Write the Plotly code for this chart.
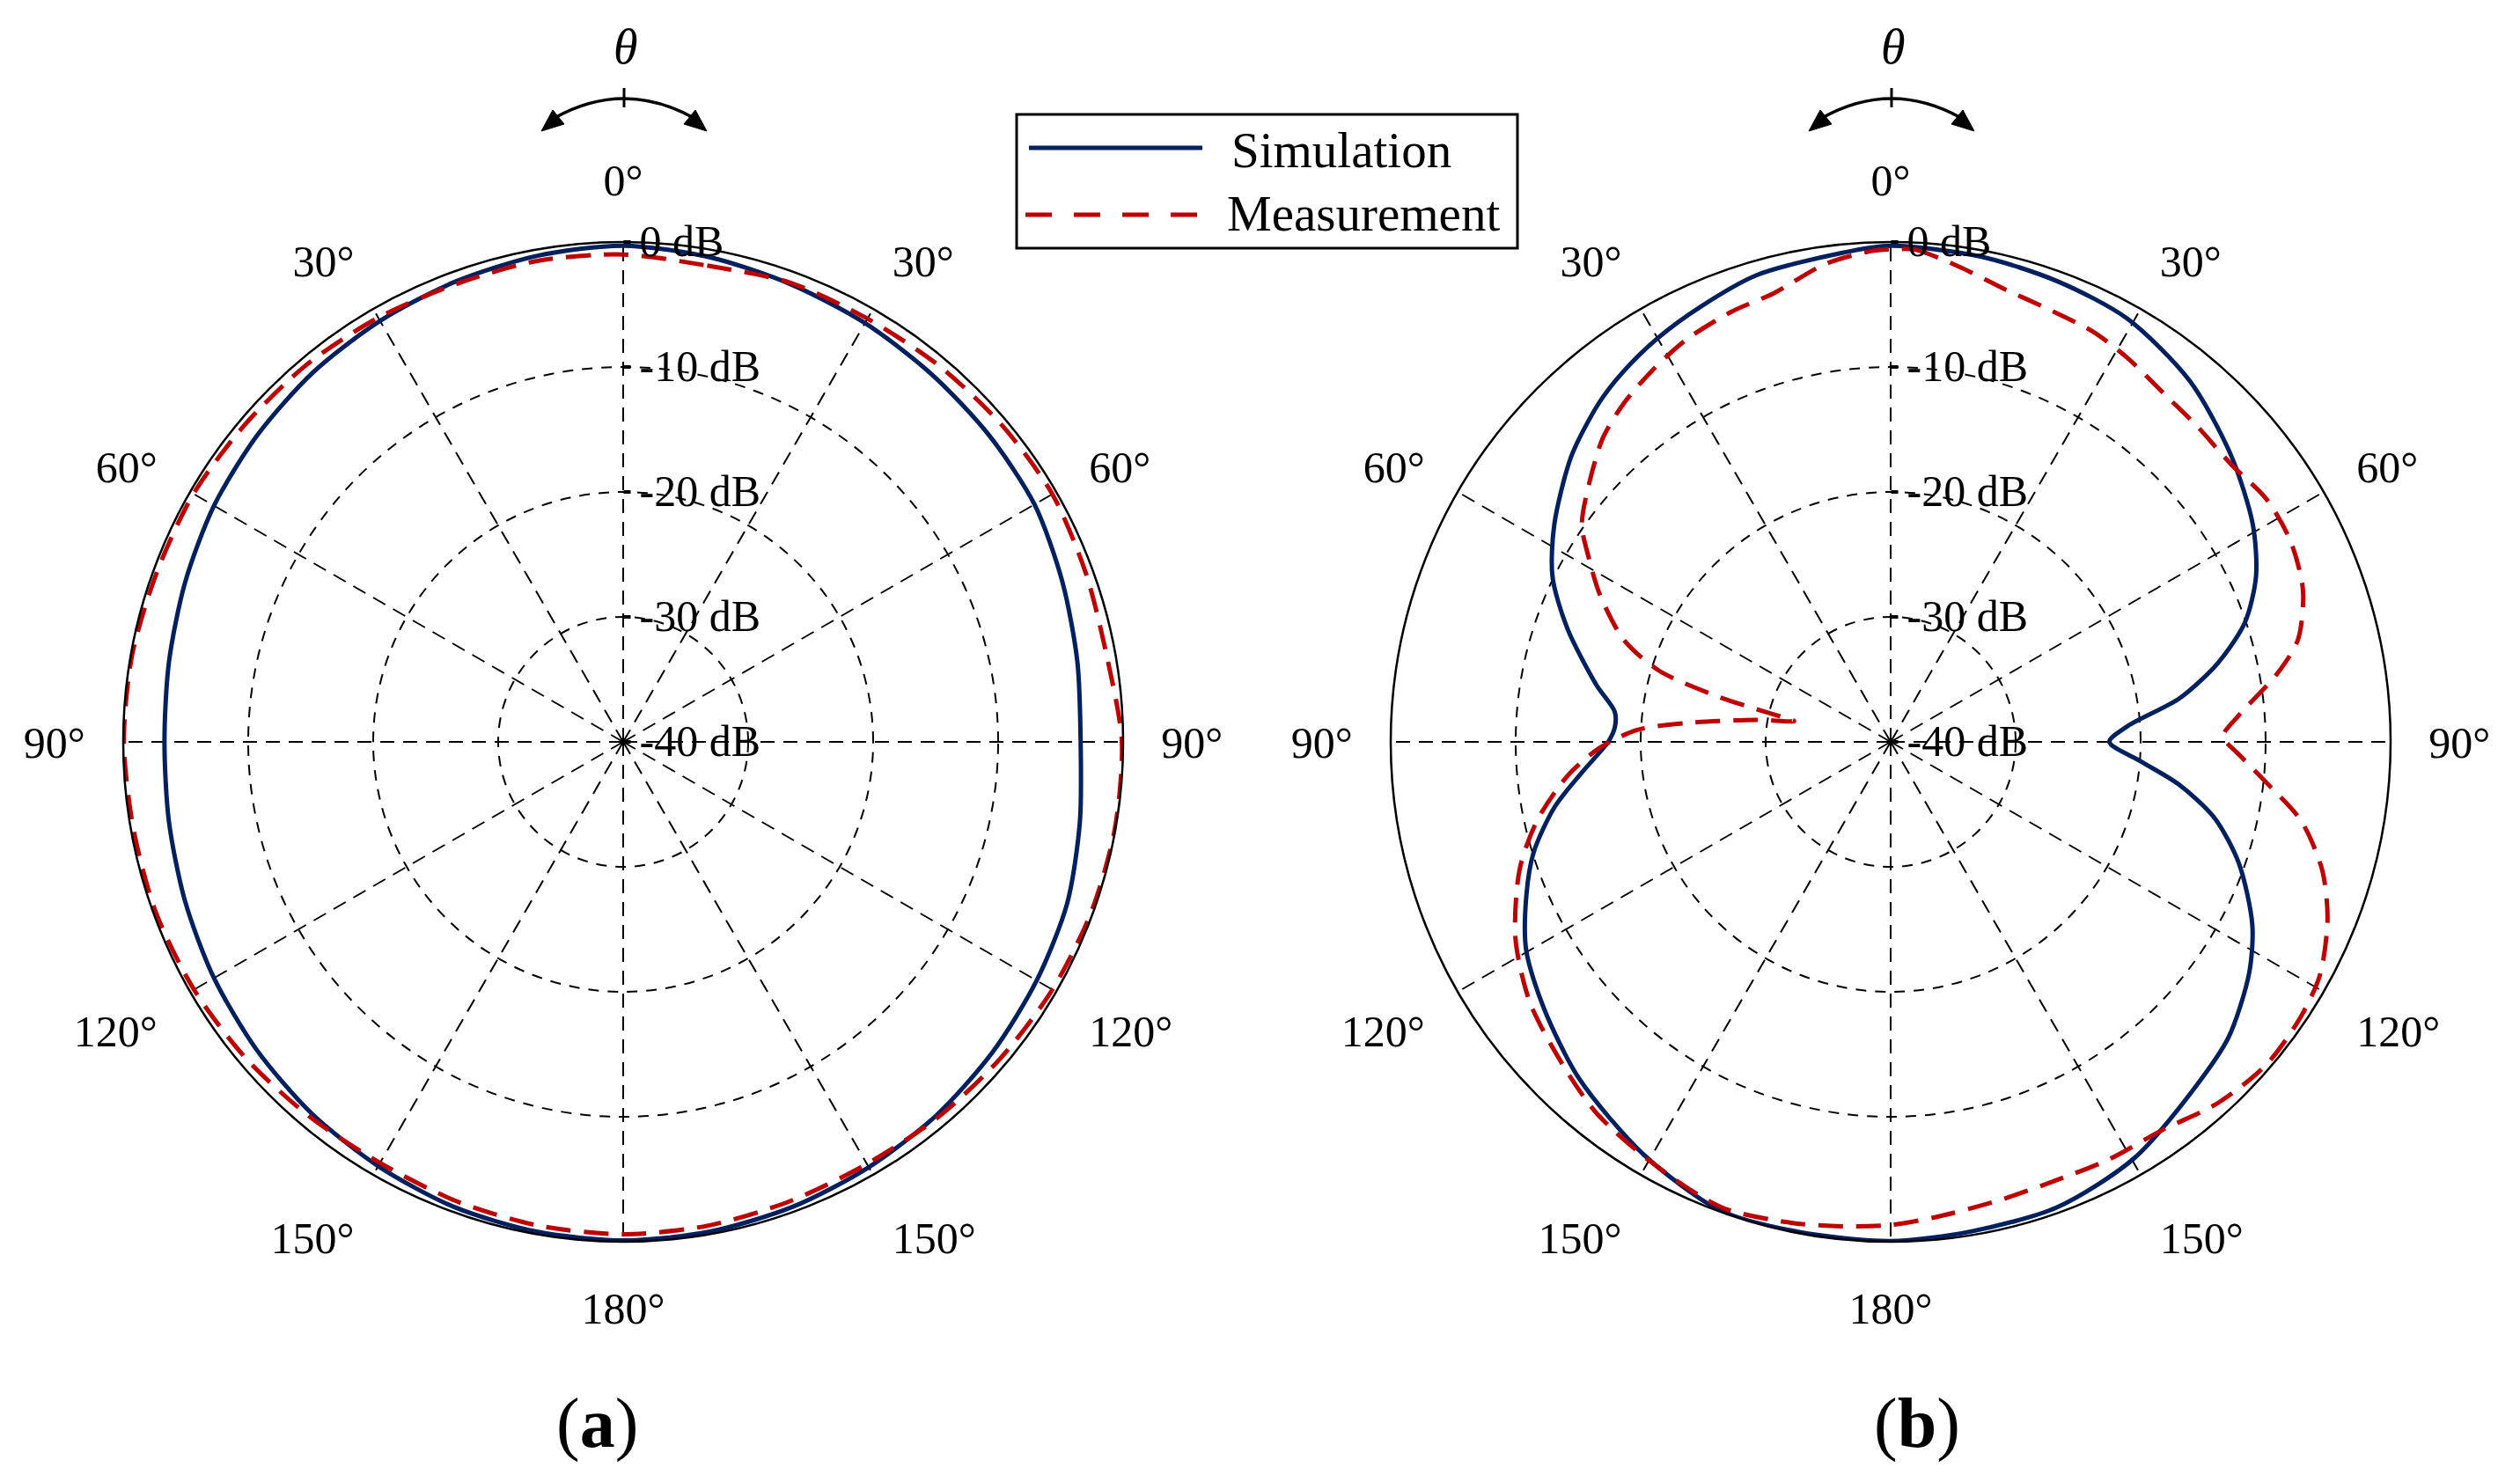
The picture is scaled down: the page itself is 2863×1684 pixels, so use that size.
import plotly.graph_objects as go

W, H = 2863, 1684

# ---------------- data ----------------
angle_tickvals = [0, 30, 60, 90, 120, 150, 180, 210, 240, 270, 300, 330]
angle_ticktext = ["0°", "30°", "60°", "90°", "120°", "150°", "180°",
                  "150°", "120°", "90°", "60°", "30°"]
radial_tickvals = [-40, -30, -20, -10, 0]
radial_ticktext = ["-40 dB", "-30 dB", "-20 dB", "-10 dB", "0 dB"]

# (a) angles in degrees, clockwise from top
theta_a = [0, 10, 20, 30, 40, 50, 60, 70, 80, 90, 100, 110, 120, 130, 140, 150, 160, 170,
           180, 190, 200, 210, 220, 230, 240, 250, 260, 270, 280, 290, 300, 310, 320, 330,
           340, 350, 360]
r_a_sim = [-0.3, -0.6, -1.0, -1.3, -1.6, -1.8, -2.0, -2.6, -3.1, -3.4, -2.9, -2.2, -1.8,
           -1.4, -1.0, -0.7, -0.4, -0.2, -0.1, -0.2, -0.4, -0.8, -1.2, -1.7, -2.2, -2.7,
           -3.1, -3.3, -3.1, -2.7, -2.2, -1.8, -1.4, -1.1, -0.8, -0.5, -0.3]
r_a_meas = [-1.0, -1.3, -0.9, -0.9, -0.7, -0.5, -0.35, -0.6, -0.7, -0.1, -0.05, -0.15,
            -0.35, -0.6, -0.8, -1.0, -0.9, -0.7, -0.6, -0.7, -0.9, -1.1, -0.9, -0.6, -0.35,
            -0.2, -0.2, -0.05, -0.1, -0.3, -0.3, -0.5, -0.6, -0.8, -1.0, -0.9, -1.0]

# (b)
theta_b_sim = [0, 10.5, 19.9, 29.2, 39.7, 49.9, 59, 65.6, 71.4, 76.5, 81.4, 86.2, 90, 94.5,
               98.4, 103.2, 109.2, 116.9, 122.9, 131.1, 138.3, 149.7, 160.3, 170.7, 180,
               190.7, 199.9, 210.8, 222.8, 232.4, 240.2, 246.9, 252.8, 259, 264.4, 270,
               273, 276.2, 281, 289.3, 296, 302.9, 311.9, 319.4, 324.2, 330, 336.4, 343.9,
               354.5, 360]
r_b_sim = [-0.3, -0.5, -0.8, -1.2, -2.5, -4.4, -6.2, -7.9, -10.1, -13.1, -16.6, -21.0,
           -22.5, -19.9, -16.7, -13.4, -10.5, -7.55, -5.85, -4.1, -3.2, -1.4, -0.45, -0.3,
           -0.05, -0.1, -0.1, -1.5, -3.3, -5.0, -6.4, -8.3, -10.1, -12.6, -15.2, -17.4,
           -17.9, -17.8, -16.0, -12.6, -9.9, -7.95, -5.7, -4.2, -3.45, -2.7, -2.0, -1.15,
           -0.66, -0.3]

theta_b_meas = [0, 2.8, 8.3, 13.8, 19.9, 26.2, 31.6, 38.4, 44.2, 50.9, 57.2, 63.4, 69.8,
                75.9, 80, 85.7, 89.1, 92.1, 96.2, 100.9, 106.5, 112, 118.4, 123.7, 130.6,
                137.8, 145.1, 152.3, 159.1, 166.8, 174.6, 180, 185.6, 191.7, 200, 209.7,
                218.4, 225.6, 234.2, 242.3, 251, 257.4, 264, 268.8, 272.7, 275.3, 279.3,
                282.2, 283.4, 284.7, 287.1, 291, 296.9, 301.2, 305.1, 310.7, 316.6, 321.8,
                327.2, 333, 339.7, 345.4, 352.2, 357.7, 360]
r_b_meas = [-0.6, -0.56, -1.6, -2.6, -3.14, -3.4, -3.9, -4.6, -4.8, -4.85, -4.2, -4.2,
            -4.85, -6.4, -8.6, -12.1, -13.4, -12.1, -9.75, -6.55, -4.0, -2.3, -0.93, -0.5,
            -0.37, -1.0, -2.1, -2.3, -2.5, -2.3, -1.8, -1.35, -1.05, -0.7, -0.37, -1.3,
            -2.1, -3.2, -4.4, -6.1, -8.6, -11.0, -14.0, -16.7, -19.7, -23.6, -29.1, -32.1,
            -29.8, -25.7, -20.6, -17.1, -13.9, -11.8, -9.8, -8.2, -6.5, -5.5, -4.7, -3.9,
            -3.3, -2.9, -1.4, -0.7, -0.6]

series_names = ["Simulation", "Measurement"]
sim_color = "#002060"
meas_color = "#C00000"

FONT = "Liberation Serif"

# ---------------- layout helpers ----------------
def px(x, y):
    return x / W, 1 - y / H

R = 568
centers = [(708, 843), (2148, 843)]


def domain(cx, cy):
    return dict(x=[(cx - R) / W, (cx + R) / W], y=[1 - (cy + R) / H, 1 - (cy - R) / H])


fig = go.Figure()

panels = [
    ("polar", theta_a, r_a_sim, theta_a, r_a_meas),
    ("polar2", theta_b_sim, r_b_sim, theta_b_meas, r_b_meas),
]
for sub, ts, rs, tm, rm in panels:
    fig.add_trace(go.Scatterpolar(theta=ts, r=rs, mode="lines", name=series_names[0],
                                  subplot=sub, showlegend=False,
                                  line=dict(color=sim_color, width=5, shape="spline",
                                            smoothing=0.8)))
    fig.add_trace(go.Scatterpolar(theta=tm, r=rm, mode="lines", name=series_names[1],
                                  subplot=sub, showlegend=False,
                                  line=dict(color=meas_color, width=5, dash="28px,15px",
                                            shape="spline", smoothing=0.8)))


def polar_layout(cx, cy):
    return dict(
        domain=domain(cx, cy),
        bgcolor="white",
        sector=[0, 360],
        angularaxis=dict(
            rotation=90, direction="clockwise",
            tickmode="array", tickvals=angle_tickvals, ticktext=angle_ticktext,
            tickfont=dict(family=FONT, size=50, color="black"),
            ticks="outside", ticklen=32, tickcolor="rgba(0,0,0,0)",
            showline=True, linecolor="black", linewidth=2.5,
            showgrid=True, gridcolor="black", gridwidth=1.8, griddash="16px,10px",
        ),
        radialaxis=dict(
            range=[-40, 0], angle=90, tickangle=90, side="clockwise",
            tickmode="array", tickvals=radial_tickvals, ticktext=radial_ticktext,
            tickfont=dict(family=FONT, size=50, color="black"),
            showline=False, ticks="outside", ticklen=8, tickwidth=4, tickcolor="black",
            showgrid=True, gridcolor="black", gridwidth=1.8, griddash="12px,10px",
        ),
    )


annotations = []
shapes = []
for i, (cx, cy) in enumerate(centers):
    # theta symbol
    x, y = px(cx + 3, 53)
    annotations.append(dict(x=x, y=y, xref="paper", yref="paper", text="<i>θ</i>",
                            showarrow=False, font=dict(family=FONT, size=56, color="black"),
                            xanchor="center", yanchor="middle"))
    # arc with arrows
    x0, y0 = px(cx - 78, 134)
    xc, yc = px(cx + 1, 90)
    x1, y1 = px(cx + 80, 134)
    shapes.append(dict(type="path", xref="paper", yref="paper",
                       path=f"M {x0},{y0} Q {xc},{yc} {x1},{y1}",
                       line=dict(color="black", width=3.5)))
    # tick on arc
    a0x, a0y = px(cx + 1, 100)
    a1x, a1y = px(cx + 1, 122)
    shapes.append(dict(type="line", xref="paper", yref="paper", x0=a0x, y0=a0y, x1=a1x, y1=a1y,
                       line=dict(color="black", width=3)))
    # arrow heads
    for sgn in (-1, 1):
        tx, ty = px(cx + 1 + sgn * 94, 149)
        bx, by = px(cx + 1 + sgn * 81, 125)
        cx2, cy2 = px(cx + 1 + sgn * 68, 141)
        shapes.append(dict(type="path", xref="paper", yref="paper",
                           path=f"M {tx},{ty} L {bx},{by} L {cx2},{cy2} Z",
                           fillcolor="black", line=dict(color="black", width=1)))
    # panel label
    lx, ly = px(cx - 30 if i == 0 else cx + 30, 1617)
    annotations.append(dict(x=lx, y=ly, xref="paper", yref="paper",
                            text="(<b>a</b>)" if i == 0 else "(<b>b</b>)",
                            showarrow=False, font=dict(family=FONT, size=80, color="black"),
                            xanchor="center", yanchor="middle"))

# legend box (drawn manually to match line sample length)
bx0, by0 = px(1155, 130)
bx1, by1 = px(1724, 282)
shapes.append(dict(type="rect", xref="paper", yref="paper", x0=bx0, y0=by1, x1=bx1, y1=by0,
                   line=dict(color="black", width=3), fillcolor="white", layer="above"))
lx0, ly0 = px(1169, 168)
lx1, _ = px(1366, 168)
shapes.append(dict(type="line", xref="paper", yref="paper", x0=lx0, y0=ly0, x1=lx1, y1=ly0,
                   line=dict(color=sim_color, width=5)))
mx0, my0 = px(1165, 244)
mx1, _ = px(1371, 244)
shapes.append(dict(type="line", xref="paper", yref="paper", x0=mx0, y0=my0, x1=mx1, y1=my0,
                   line=dict(color=meas_color, width=5, dash="30px,25px")))
for name, (tx, ty) in zip(series_names, [(1397, 170), (1392, 242)]):
    x, y = px(tx, ty)
    annotations.append(dict(x=x, y=y, xref="paper", yref="paper", text=name,
                            showarrow=False, font=dict(family=FONT, size=57, color="black"),
                            xanchor="left", yanchor="middle"))

fig.update_layout(
    width=W, height=H, autosize=False,
    margin=dict(l=0, r=0, t=0, b=0),
    paper_bgcolor="white", plot_bgcolor="white",
    font=dict(family=FONT, color="black"),
    polar=polar_layout(*centers[0]),
    polar2=polar_layout(*centers[1]),
    annotations=annotations,
    shapes=shapes,
    showlegend=False,
)

fig.write_html("out.html", config={"displayModeBar": False},
               post_script="document.body.style.margin='0';")
